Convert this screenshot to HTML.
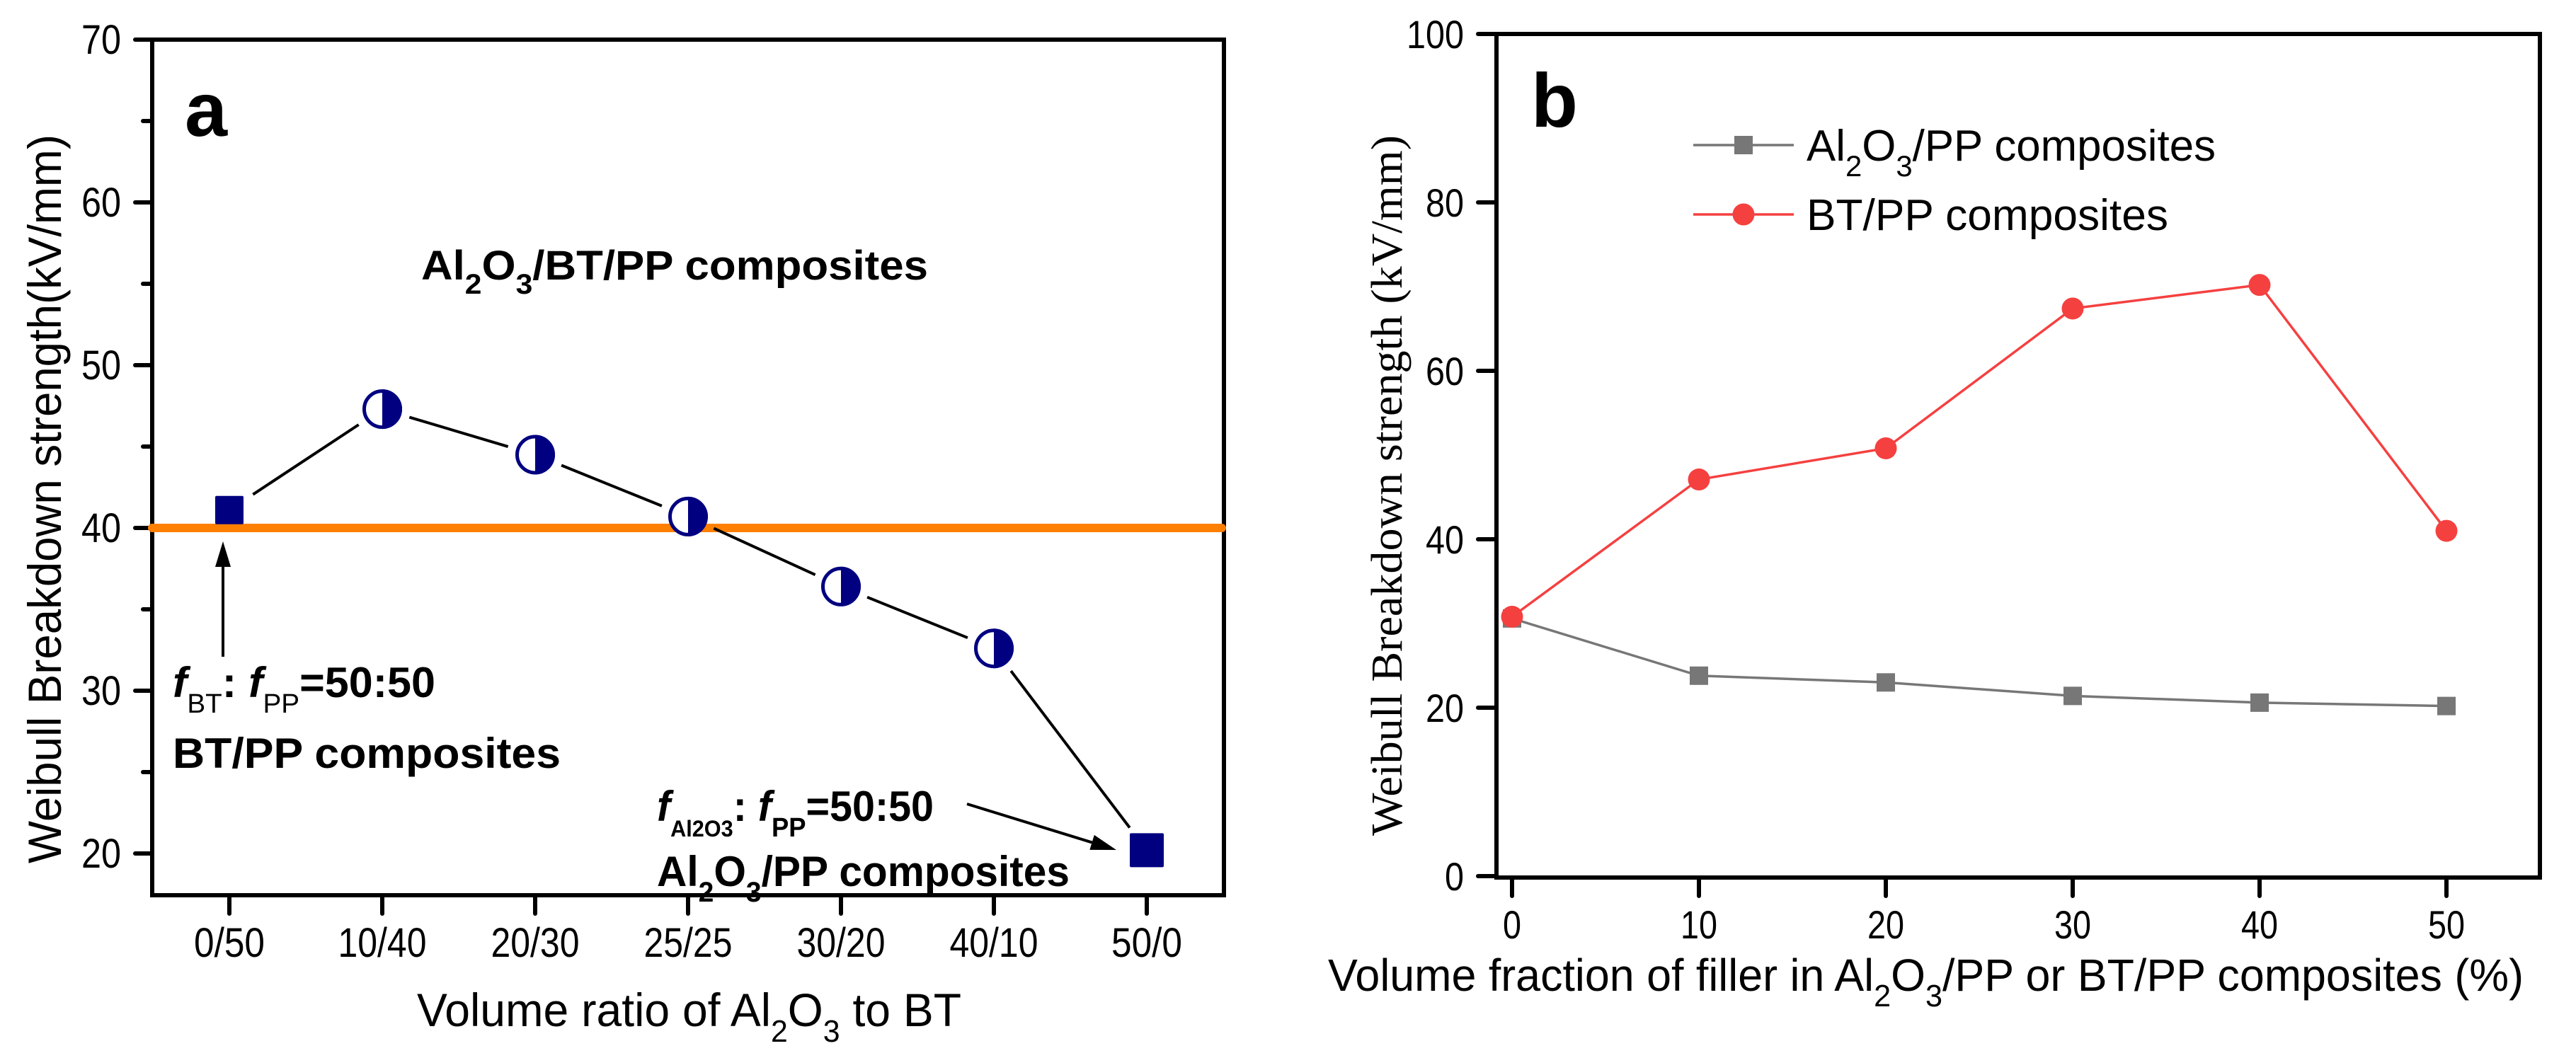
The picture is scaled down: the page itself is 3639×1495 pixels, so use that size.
<!DOCTYPE html>
<html><head><meta charset="utf-8"><title>Weibull breakdown strength</title>
<style>html,body{margin:0;padding:0;background:#fff}svg{display:block}</style></head>
<body>
<svg id="chart" xmlns="http://www.w3.org/2000/svg" width="3639" height="1495" viewBox="0 0 3639 1495" font-family="'Liberation Sans', Arial, sans-serif">
<rect width="3639" height="1495" fill="#fff"/>
<g id="pa"></g>
<g id="pb"></g>
</svg>
<script>
// ---------- Panel A data ----------
const aCategories = ["0/50","10/40","20/30","25/25","30/20","40/10","50/0"];
const aValues = [41.1, 47.3, 44.5, 40.7, 36.4, 32.6, 20.2];
const aMarkerKinds = ["square","half","half","half","half","half","square"];
const aRefValue = 40;
const aYTicks = [20,30,40,50,60,70];
const aYMinorTicks = [25,35,45,55,65];

// ---------- Panel B data ----------
const bX = [0,10,20,30,40,50];
const bAl2O3 = [30.6, 23.8, 23.0, 21.4, 20.6, 20.2];
const bBT = [30.8, 47.1, 50.8, 67.4, 70.2, 41.0];
const bYTicks = [0,20,40,60,80,100];
const bXTicks = [0,10,20,30,40,50];

const NS = "http://www.w3.org/2000/svg";
function mk(parent, tag, attrs, text) {
  const e = document.createElementNS(NS, tag);
  for (const k in attrs) e.setAttribute(k, attrs[k]);
  if (text !== undefined) e.textContent = text;
  parent.appendChild(e);
  return e;
}

// ================= PANEL A =================
const pa = document.getElementById("pa");
const A = {l:215, r:1729, t:56, b:1265};
const ayPix = v => 1206 - (v - 20) * 23;
const axPix = i => 324 + i * 216;

let fr = mk(pa, "rect", {x:A.l, y:A.t, width:A.r-A.l, height:A.b-A.t, fill:"none", stroke:"#000", "stroke-width":6});



aYTicks.forEach(v => {
  const y = ayPix(v);
  let t = mk(pa, "line", {x1:A.l-24, x2:A.l, y1:y, y2:y, stroke:"#000", "stroke-width":6, "stroke-linecap":"round"});
  
  
  let lb = mk(pa, "text", {x:171, y:y+20, "font-size":58, "text-anchor":"end", textLength:56, lengthAdjust:"spacingAndGlyphs"}, String(v));
  
  
});
aYMinorTicks.forEach(v => {
  const y = ayPix(v);
  let t = mk(pa, "line", {x1:A.l-13, x2:A.l, y1:y, y2:y, stroke:"#000", "stroke-width":6, "stroke-linecap":"round"});
  
  
});
aCategories.forEach((c, i) => {
  const x = axPix(i);
  let t = mk(pa, "line", {x1:x, x2:x, y1:A.b, y2:A.b+26, stroke:"#000", "stroke-width":6, "stroke-linecap":"round"});
  
  
  const w = c.length * 25;
  let lb = mk(pa, "text", {x:x, y:1352, "font-size":58, "text-anchor":"middle", textLength:w, lengthAdjust:"spacingAndGlyphs"}, c);
  
  
});

let ref = mk(pa, "line", {x1:A.l, x2:A.r-3, y1:ayPix(aRefValue), y2:ayPix(aRefValue), stroke:"#FF8000", "stroke-width":12, "stroke-linecap":"round"});



for (let i = 0; i < aValues.length - 1; i++) {
  const x1 = axPix(i), y1 = ayPix(aValues[i]), x2 = axPix(i+1), y2 = ayPix(aValues[i+1]);
  const dx = x2-x1, dy = y2-y1, L = Math.hypot(dx, dy);
  const g1 = 40, g2 = 40;
  let s = mk(pa, "line", {x1:x1+dx*g1/L, y1:y1+dy*g1/L, x2:x2-dx*g2/L, y2:y2-dy*g2/L, stroke:"#000", "stroke-width":4});
  
  
}
aValues.forEach((v, i) => {
  const x = axPix(i), y = ayPix(v);
  if (aMarkerKinds[i] === "square") {
    const sz = i === aValues.length-1 ? 48 : 40;
    let m = mk(pa, "rect", {x:x-sz/2, y:y-sz/2, width:sz, height:sz, fill:"#000080", rx:2});
    
    
  } else {
    const g = mk(pa, "g", {});
    
    
    mk(g, "circle", {cx:x, cy:y, r:25.5, fill:"#fff", stroke:"#000080", "stroke-width":5});
    mk(g, "path", {d:`M ${x} ${y-28} A 28 28 0 0 1 ${x} ${y+28} Z`, fill:"#000080"});
  }
});

function arrow(parent, x1, y1, x2, y2, name) {
  const g = mk(parent, "g", {});
  
  
  const dx = x2-x1, dy = y2-y1, L = Math.hypot(dx, dy), ux = dx/L, uy = dy/L;
  const hl = 36, hw = 11;
  const bx = x2-ux*hl, by = y2-uy*hl;
  mk(g, "line", {x1:x1, y1:y1, x2:bx, y2:by, stroke:"#000", "stroke-width":4});
  mk(g, "path", {d:`M ${x2} ${y2} L ${bx-uy*hw} ${by+ux*hw} L ${bx+uy*hw} ${by-ux*hw} Z`, fill:"#000"});
}
arrow(pa, 315, 928, 315, 765, "arrow-bt-pp");
arrow(pa, 1366, 1136, 1577, 1201, "arrow-al2o3-pp");

let t;
t = mk(pa, "text", {x:261, y:192, "font-size":108, "font-weight":"bold"}, "a");



t = mk(pa, "text", {x:595, y:395, "font-size":58, "font-weight":"bold", textLength:716, lengthAdjust:"spacingAndGlyphs"});


t.innerHTML = 'Al<tspan dy="20" font-size="40">2</tspan><tspan dy="-20">O</tspan><tspan dy="20" font-size="40">3</tspan><tspan dy="-20">/BT/PP composites</tspan>';

t = mk(pa, "text", {x:244, y:985, "font-size":60, "font-weight":"bold", textLength:371, lengthAdjust:"spacingAndGlyphs"});


t.innerHTML = '<tspan font-style="italic">f</tspan><tspan dy="22" font-size="38" font-weight="normal">BT</tspan><tspan dy="-22">: </tspan><tspan font-style="italic">f</tspan><tspan dy="22" font-size="38" font-weight="normal">PP</tspan><tspan dy="-22">=50:50</tspan>';

t = mk(pa, "text", {x:244, y:1085, "font-size":60, "font-weight":"bold", textLength:548, lengthAdjust:"spacingAndGlyphs"}, "BT/PP composites");



t = mk(pa, "text", {x:928, y:1160, "font-size":60, "font-weight":"bold", textLength:391, lengthAdjust:"spacingAndGlyphs"});


t.innerHTML = '<tspan font-style="italic">f</tspan><tspan dy="22" font-size="32">Al2O3</tspan><tspan dy="-22">: </tspan><tspan font-style="italic">f</tspan><tspan dy="22" font-size="38">PP</tspan><tspan dy="-22">=50:50</tspan>';

t = mk(pa, "text", {x:928, y:1252, "font-size":60, "font-weight":"bold", textLength:583, lengthAdjust:"spacingAndGlyphs"});


t.innerHTML = 'Al<tspan dy="22" font-size="40">2</tspan><tspan dy="-22">O</tspan><tspan dy="22" font-size="40">3</tspan><tspan dy="-22">/PP composites</tspan>';

t = mk(pa, "text", {x:589, y:1450, "font-size":66, textLength:769, lengthAdjust:"spacingAndGlyphs"});


t.innerHTML = 'Volume ratio of Al<tspan dy="22" font-size="44">2</tspan><tspan dy="-22">O</tspan><tspan dy="22" font-size="44">3</tspan><tspan dy="-22"> to BT</tspan>';

t = mk(pa, "text", {x:0, y:0, "font-size":66, "text-anchor":"middle", textLength:1030, lengthAdjust:"spacingAndGlyphs", transform:"translate(86,705) rotate(-90)"}, "Weibull Breakdown strength(kV/mm)");



// ================= PANEL B =================
const pb = document.getElementById("pb");
const B = {l:2114, r:3588, t:48, b:1240};
const byPix = v => 1238 - v * 11.9;
const bxPix = v => 2136 + v * 26.4;

fr = mk(pb, "rect", {x:B.l, y:B.t, width:B.r-B.l, height:B.b-B.t, fill:"none", stroke:"#000", "stroke-width":6});



bYTicks.forEach(v => {
  const y = byPix(v);
  let tk = mk(pb, "line", {x1:B.l-26, x2:B.l, y1:y, y2:y, stroke:"#000", "stroke-width":6, "stroke-linecap":"round"});
  
  
  const s = String(v);
  let lb = mk(pb, "text", {x:2068, y:y+20, "font-size":56, "text-anchor":"end", textLength:s.length*27, lengthAdjust:"spacingAndGlyphs"}, s);
  
  
});
bXTicks.forEach(v => {
  const x = bxPix(v);
  let tk = mk(pb, "line", {x1:x, x2:x, y1:B.b, y2:B.b+26, stroke:"#000", "stroke-width":6, "stroke-linecap":"round"});
  
  
  const s = String(v);
  let lb = mk(pb, "text", {x:x, y:1326, "font-size":56, "text-anchor":"middle", textLength:s.length*26, lengthAdjust:"spacingAndGlyphs"}, s);
  
  
});

function series(vals, color, kind, name) {
  const pts = bX.map((x, i) => `${bxPix(x)},${byPix(vals[i])}`).join(" ");
  let pl = mk(pb, "polyline", {points:pts, fill:"none", stroke:color, "stroke-width":3.5});
  
  
  vals.forEach((v, i) => {
    const x = bxPix(bX[i]), y = byPix(v);
    let m;
    if (kind === "square") m = mk(pb, "rect", {x:x-13, y:y-13, width:26, height:26, fill:color});
    else m = mk(pb, "circle", {cx:x, cy:y, r:15.5, fill:color});
    
    
  });
}
series(bAl2O3, "#777777", "square", "al2o3-pp");
series(bBT, "#F54040", "circle", "bt-pp");

const lg = mk(pb, "g", {});


const le1 = mk(lg, "g", {});


mk(le1, "line", {x1:2392, x2:2534, y1:205, y2:205, stroke:"#777777", "stroke-width":3.5});
mk(le1, "rect", {x:2450, y:192, width:26, height:26, fill:"#777777"});
t = mk(le1, "text", {x:2552, y:227, "font-size":62, textLength:578, lengthAdjust:"spacingAndGlyphs"});
t.innerHTML = 'Al<tspan dy="22" font-size="42">2</tspan><tspan dy="-22">O</tspan><tspan dy="22" font-size="42">3</tspan><tspan dy="-22">/PP composites</tspan>';
const le2 = mk(lg, "g", {});


mk(le2, "line", {x1:2392, x2:2534, y1:303, y2:303, stroke:"#F54040", "stroke-width":3.5});
mk(le2, "circle", {cx:2463, cy:303, r:15.5, fill:"#F54040"});
mk(le2, "text", {x:2552, y:325, "font-size":62, textLength:511, lengthAdjust:"spacingAndGlyphs"}, "BT/PP composites");

t = mk(pb, "text", {x:2163, y:179, "font-size":108, "font-weight":"bold"}, "b");



t = mk(pb, "text", {x:1876, y:1400, "font-size":64, textLength:1689, lengthAdjust:"spacingAndGlyphs"});


t.innerHTML = 'Volume fraction of filler in Al<tspan dy="22" font-size="44">2</tspan><tspan dy="-22">O</tspan><tspan dy="22" font-size="44">3</tspan><tspan dy="-22">/PP or BT/PP composites (%)</tspan>';

t = mk(pb, "text", {x:0, y:0, "font-size":62, "font-family":"'Liberation Serif', serif", "text-anchor":"middle", textLength:990, lengthAdjust:"spacingAndGlyphs", transform:"translate(1980,686) rotate(-90)"}, "Weibull Breakdown strength (kV/mm)");


</script>
</body></html>
